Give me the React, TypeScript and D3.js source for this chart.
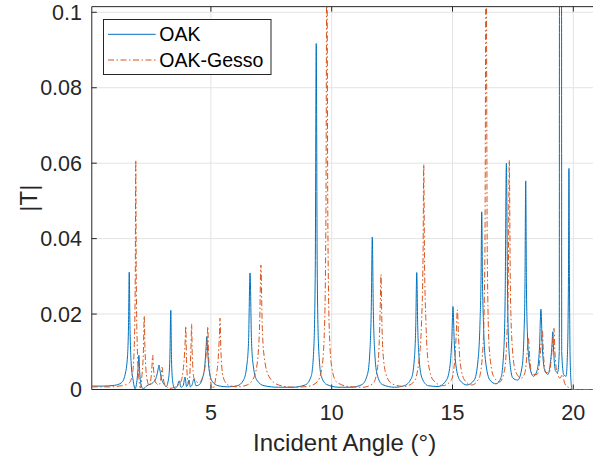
import React from "react";
import * as d3 from "d3";

// ---- Data ----
const xTicks = [5, 10, 15, 20];
const yTicks = [0, 0.02, 0.04, 0.06, 0.08, 0.1];
const yTickLabels = ["0", "0.02", "0.04", "0.06", "0.08", "0.1"];
const seriesNames = ["OAK", "OAK-Gesso"];

// OAK: [incident angle (deg), |T|]
const oakData: [number, number][] = [
  [0.07, 0.0009], [0.5, 0.0009], [1.0, 0.0011], [1.3, 0.0018], [1.45, 0.004], [1.55, 0.009],
  [1.59, 0.017], [1.62, 0.0311], [1.65, 0.017], [1.7, 0.007], [1.78, 0.0025], [1.86, 0.0002],
  [1.95, 0.003], [1.99, 0.006], [2.02, 0.0091], [2.05, 0.005], [2.12, 0.001], [2.2, 0.0002],
  [2.35, 0.001], [2.6, 0.0018], [2.75, 0.0035], [2.82, 0.0055], [2.85, 0.0065], [2.88, 0.0055],
  [2.95, 0.003], [3.05, 0.0015], [3.15, 0.0008], [3.25, 0.003], [3.3, 0.008], [3.34, 0.021],
  [3.37, 0.008], [3.42, 0.002], [3.5, 0.0003], [3.6, 0.0008], [3.69, 0.0023], [3.76, 0.0006],
  [3.85, 0.001], [3.93, 0.0033], [3.99, 0.0008], [4.04, 0.0012], [4.09, 0.0025], [4.15, 0.0007],
  [4.22, 0.0012], [4.3, 0.0028], [4.38, 0.001], [4.5, 0.0012], [4.65, 0.003], [4.75, 0.0065],
  [4.8, 0.011], [4.83, 0.014], [4.86, 0.011], [4.92, 0.0055], [5.05, 0.0022], [5.3, 0.001],
  [5.7, 0.0007], [6.1, 0.001], [6.35, 0.0025], [6.48, 0.006], [6.56, 0.013], [6.62, 0.0309],
  [6.68, 0.013], [6.76, 0.006], [6.9, 0.0025], [7.2, 0.001], [7.8, 0.0006], [8.4, 0.0006],
  [8.9, 0.0012], [9.15, 0.0035], [9.26, 0.011], [9.32, 0.032], [9.36, 0.0917], [9.4, 0.032],
  [9.46, 0.011], [9.57, 0.0035], [9.8, 0.0013], [10.3, 0.0006], [10.8, 0.0006], [11.25, 0.0013],
  [11.48, 0.004], [11.58, 0.01], [11.64, 0.022], [11.68, 0.0404], [11.72, 0.022], [11.78, 0.01],
  [11.88, 0.004], [12.1, 0.0013], [12.6, 0.0006], [13.0, 0.001], [13.3, 0.003], [13.42, 0.008],
  [13.48, 0.017], [13.52, 0.031], [13.56, 0.017], [13.62, 0.008], [13.74, 0.003], [14.0, 0.001],
  [14.4, 0.0008], [14.75, 0.0025], [14.9, 0.0065], [14.97, 0.013], [15.02, 0.022], [15.07, 0.013],
  [15.14, 0.0065], [15.3, 0.0025], [15.6, 0.0012], [15.9, 0.0025], [16.06, 0.008], [16.14, 0.018],
  [16.18, 0.029], [16.21, 0.0471], [16.24, 0.029], [16.28, 0.018], [16.36, 0.008], [16.55, 0.0025],
  [16.8, 0.0015], [17.0, 0.003], [17.12, 0.01], [17.18, 0.025], [17.23, 0.06], [17.28, 0.025],
  [17.34, 0.01], [17.5, 0.003], [17.7, 0.0025], [17.88, 0.006], [17.96, 0.015], [18.0, 0.028],
  [18.03, 0.0553], [18.06, 0.028], [18.1, 0.015], [18.2, 0.006], [18.35, 0.0035], [18.5, 0.005],
  [18.6, 0.011], [18.66, 0.0213], [18.72, 0.011], [18.82, 0.005], [18.95, 0.004], [19.05, 0.007],
  [19.12, 0.012], [19.15, 0.0153], [19.18, 0.011], [19.26, 0.005], [19.35, 0.0045], [19.42, 0.01],
  [19.429, 0.12], [19.512, 0.12], [19.52, 0.01], [19.6, 0.004], [19.7, 0.0035], [19.76, 0.01],
  [19.8, 0.03], [19.82, 0.0586], [19.84, 0.03], [19.87, 0.008], [19.92, 0.001], [19.95, 0],
  [21, 0],
];

// OAK-Gesso: [incident angle (deg), |T|]
const gessoData: [number, number][] = [
  [0.07, 0.0007], [0.8, 0.0007], [1.3, 0.001], [1.6, 0.0016], [1.75, 0.004], [1.83, 0.012],
  [1.87, 0.03], [1.89, 0.0608], [1.91, 0.03], [1.95, 0.012], [2.02, 0.003], [2.08, 0.0004],
  [2.15, 0.004], [2.21, 0.011], [2.24, 0.0195], [2.27, 0.011], [2.35, 0.003], [2.45, 0.001],
  [2.52, 0.003], [2.56, 0.006], [2.59, 0.0091], [2.62, 0.006], [2.7, 0.002], [2.85, 0.0012],
  [2.94, 0.0035], [2.98, 0.0059], [3.02, 0.0035], [3.1, 0.0012], [3.3, 0.0003], [3.5, 0.0006],
  [3.75, 0.002], [3.88, 0.007], [3.93, 0.012], [3.96, 0.0168], [3.99, 0.008], [4.05, 0.002],
  [4.1, 0.0015], [4.15, 0.007], [4.18, 0.012], [4.2, 0.0174], [4.23, 0.009], [4.3, 0.003],
  [4.5, 0.0018], [4.7, 0.004], [4.8, 0.009], [4.85, 0.014], [4.87, 0.0167], [4.9, 0.01],
  [4.97, 0.003], [5.08, 0.0002], [5.2, 0.003], [5.3, 0.008], [5.35, 0.014], [5.38, 0.0189],
  [5.41, 0.011], [5.5, 0.0035], [5.7, 0.0012], [6.1, 0.0007], [6.5, 0.0012], [6.8, 0.0035],
  [6.95, 0.009], [7.02, 0.018], [7.07, 0.033], [7.12, 0.018], [7.2, 0.009], [7.4, 0.0035],
  [7.8, 0.0012], [8.4, 0.0006], [9.0, 0.0008], [9.4, 0.002], [9.6, 0.006], [9.7, 0.016],
  [9.76, 0.045], [9.8, 0.12], [9.84, 0.045], [9.9, 0.016], [10.0, 0.006], [10.2, 0.002],
  [10.7, 0.0008], [11.3, 0.0006], [11.7, 0.0015], [11.88, 0.005], [11.97, 0.013], [12.01, 0.022],
  [12.04, 0.0305], [12.07, 0.02], [12.12, 0.01], [12.25, 0.004], [12.5, 0.0015], [13.0, 0.0008],
  [13.4, 0.002], [13.6, 0.007], [13.72, 0.018], [13.78, 0.035], [13.81, 0.0597], [13.84, 0.035],
  [13.9, 0.018], [14.0, 0.007], [14.2, 0.0025], [14.6, 0.001], [14.95, 0.0025], [15.08, 0.007],
  [15.15, 0.014], [15.2, 0.0211], [15.25, 0.014], [15.32, 0.007], [15.5, 0.0025], [15.8, 0.0012],
  [16.1, 0.003], [16.26, 0.011], [16.34, 0.035], [16.39, 0.12], [16.44, 0.035], [16.52, 0.011],
  [16.7, 0.0035], [16.95, 0.002], [17.15, 0.005], [17.25, 0.014], [17.31, 0.03], [17.35, 0.0608],
  [17.39, 0.03], [17.45, 0.014], [17.6, 0.005], [17.85, 0.003], [18.0, 0.0045], [18.08, 0.009],
  [18.14, 0.0136], [18.2, 0.008], [18.3, 0.004], [18.5, 0.004], [18.63, 0.009], [18.69, 0.014],
  [18.72, 0.0158], [18.76, 0.01], [18.86, 0.0045], [19.0, 0.0045], [19.1, 0.009], [19.17, 0.015],
  [19.2, 0.0162], [19.24, 0.01], [19.33, 0.0045], [19.45, 0.003], [19.55, 0.004], [19.65, 0.0015],
  [19.8, 0.0006], [19.88, 0.0004], [19.95, 0], [21, 0],
];

const BLUE = "#0072BD";
const ORANGE = "#D95319";
const AXIS = "#262626";
const GRID = "#e3e3e3";
const FONT = "'Liberation Sans', Arial, Helvetica, sans-serif";

export default function App() {
  const W = 593;
  const H = 462;
  const x = d3.scaleLinear().domain([0, 20]).range([90.1, 573.3]);
  const y = d3.scaleLinear().domain([0, 0.1]).range([389.5, 12.3]);
  const xMin = 0.07;
  const xMax = 21;
  const yMax = 0.1015;
  const left = x(xMin);
  const right = x(xMax);
  const top = y(yMax);
  const bottom = y(0);

  const line = d3
    .line<[number, number]>()
    .x((d) => x(d[0]))
    .y((d) => y(d[1]))
    .curve(d3.curveMonotoneX);

  const tickLen = 5;
  const dash = "6,2.5,1.5,2.5";

  return (
    <svg
      width={W}
      height={H}
      style={{ position: "absolute", left: 0, top: 0, background: "#fff" }}
      fontFamily={FONT}
    >
      <defs>
        <clipPath id="plotClip">
          <rect x={left} y={top} width={right - left} height={bottom - top + 1} />
        </clipPath>
      </defs>
      <rect x={0} y={0} width={W} height={H} fill="#fff" />
      {/* grid */}
      {xTicks.map((t) => (
        <line key={"gx" + t} x1={x(t)} x2={x(t)} y1={top} y2={bottom} stroke={GRID} strokeWidth={1} />
      ))}
      {yTicks.slice(1).map((t) => (
        <line key={"gy" + t} x1={left} x2={right} y1={y(t)} y2={y(t)} stroke={GRID} strokeWidth={1} />
      ))}
      {/* axes box */}
      <line x1={left} x2={right} y1={bottom} y2={bottom} stroke={AXIS} strokeWidth={1} />
      <line x1={left} x2={right} y1={top} y2={top} stroke={AXIS} strokeWidth={1} />
      <line x1={left} x2={left} y1={top} y2={bottom} stroke={AXIS} strokeWidth={1} />
      {/* ticks */}
      {xTicks.map((t) => (
        <g key={"xt" + t}>
          <line x1={x(t)} x2={x(t)} y1={bottom} y2={bottom - tickLen} stroke={AXIS} strokeWidth={1} />
          <line x1={x(t)} x2={x(t)} y1={top} y2={top + tickLen} stroke={AXIS} strokeWidth={1} />
          <text x={x(t)} y={419.5} textAnchor="middle" fontSize={21.5} fill={AXIS}>
            {t}
          </text>
        </g>
      ))}
      {yTicks.map((t, i) => (
        <g key={"yt" + t}>
          <line x1={left} x2={left + tickLen} y1={y(t)} y2={y(t)} stroke={AXIS} strokeWidth={1} />
          <text x={82} y={y(t) + 7.5} textAnchor="end" fontSize={21.5} fill={AXIS}>
            {yTickLabels[i]}
          </text>
        </g>
      ))}
      {/* data (drawn over the axes, as in the reference) */}
      <g clipPath="url(#plotClip)">
        <path d={line(oakData) || ""} fill="none" stroke={BLUE} strokeWidth={1} />
        <path
          d={line(gessoData) || ""}
          fill="none"
          stroke={ORANGE}
          strokeWidth={1}
          strokeDasharray={dash}
        />
      </g>
      {/* axis labels */}
      <text x={(left + right) / 2} y={451} textAnchor="middle" fontSize={24} fill={AXIS}>
        Incident Angle (°)
      </text>
      <text
        transform={`translate(37,${(top + bottom) / 2}) rotate(-90)`}
        textAnchor="middle"
        fontSize={24}
        fill={AXIS}
      >
        |T|
      </text>
      {/* legend */}
      <rect x={103.5} y={19.5} width={167.5} height={55} fill="#fff" stroke={AXIS} strokeWidth={1} />
      <line x1={108} x2={155.7} y1={34.3} y2={34.3} stroke={BLUE} strokeWidth={1} />
      <line x1={108} x2={155.7} y1={60} y2={60} stroke={ORANGE} strokeWidth={1} strokeDasharray={dash} />
      <text x={159.3} y={41.3} fontSize={19.5} fill="#000">
        {seriesNames[0]}
      </text>
      <text x={159.3} y={67} fontSize={19.5} fill="#000">
        {seriesNames[1]}
      </text>
    </svg>
  );
}
